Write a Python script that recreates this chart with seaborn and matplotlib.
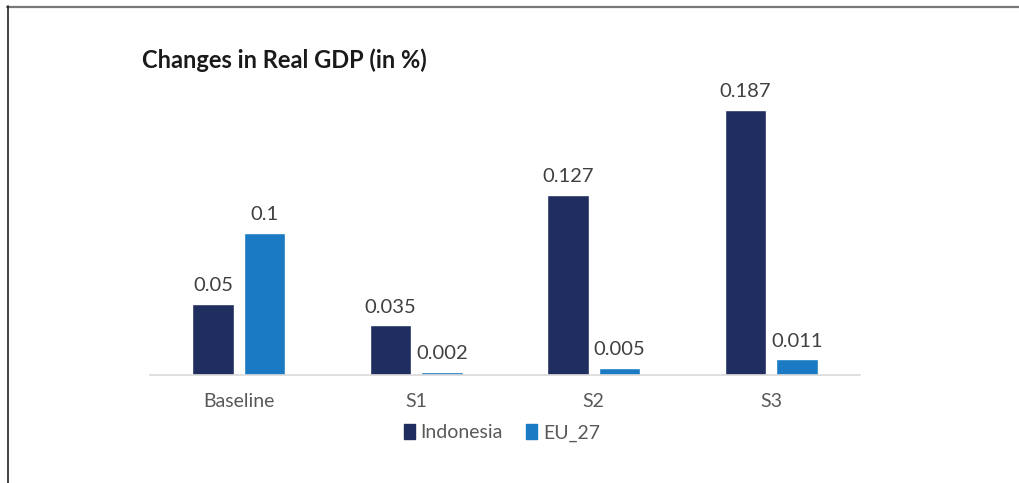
import matplotlib
matplotlib.use("Agg")
import matplotlib.pyplot as plt
from matplotlib.lines import Line2D
import seaborn as sns
import pandas as pd

# Real GDP change by scenario
scenarios = ["Baseline", "S1", "S2", "S3"]
indonesia = [0.05, 0.035, 0.127, 0.187]
eu_27 = [0.1, 0.002, 0.005, 0.011]
series_names = ["Indonesia", "EU_27"]
label_text = {"Indonesia": ["0.05", "0.035", "0.127", "0.187"],
              "EU_27": ["0.1", "0.002", "0.005", "0.011"]}

df = pd.DataFrame({
    "scenario": scenarios * 2,
    "value": indonesia + eu_27,
    "series": [series_names[0]] * len(scenarios) + [series_names[1]] * len(scenarios),
})

sns.set_theme(style="white")
plt.rcParams["font.family"] = ["Lato", "DejaVu Sans"]

W, H = 1019, 483
fig = plt.figure(figsize=(W / 100, H / 100), dpi=100)
ax = fig.add_axes([150 / W, 1 - 375 / H, 710 / W, (375 - 90) / H])

palette = {"Indonesia": "#1f2d5f", "EU_27": "#1a7ac3"}
sns.barplot(data=df, x="scenario", y="value", hue="series", order=scenarios,
            hue_order=series_names, palette=palette, width=0.58, gap=0.19,
            saturation=1, legend=False, ax=ax)

ax.set_xlim(-0.5, 3.5)
ax.set_ylim(0, 0.201)
for name, cont in zip(series_names, ax.containers):
    ax.bar_label(cont, labels=label_text[name], padding=7, fontsize=14.5,
                 color="#404040")

for s in ["top", "right", "left"]:
    ax.spines[s].set_visible(False)
ax.spines["bottom"].set_color("#d9d9d9")
ax.spines["bottom"].set_linewidth(1.2)
ax.set_yticks([])
ax.set_xlabel("")
ax.set_ylabel("")
ax.tick_params(axis="x", length=0, pad=13, labelsize=14, labelcolor="#595959")

# Legend below the categories
handles = [plt.Rectangle((0, 0), 1, 1, color=palette[n]) for n in series_names]
fig.legend(handles, series_names, loc="center", bbox_to_anchor=(502 / W, 1 - 433 / H),
           ncol=2, frameon=False, fontsize=14, handlelength=0.55, handleheight=0.8,
           handletextpad=0.3, columnspacing=1.2, labelcolor="#595959")

fig.text(142 / W, 1 - 60 / H, "Changes in Real GDP (in %)", fontsize=17,
         fontweight="bold", color="#1a1a1a", va="center", ha="left")

# Frame edges at top and left
fig.add_artist(Line2D([7 / W, 1], [1 - 6.5 / H, 1 - 6.5 / H], color="#777777", lw=1.6))
fig.add_artist(Line2D([8 / W, 8 / W], [0, 1 - 6 / H], color="#222222", lw=1.2))

fig.savefig("out.png", dpi=100)
